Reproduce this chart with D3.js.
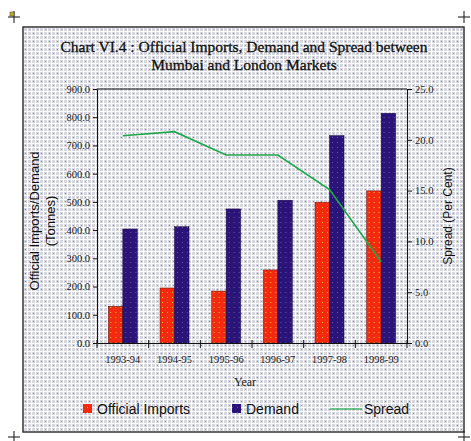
<!DOCTYPE html>
<head>
  <meta charset="utf-8">
  <script src="https://cdn.jsdelivr.net/npm/d3@7"></script>
  <style>
    body { margin: 0; background: #fff; }
    .tick text { font-family: "Liberation Serif", serif; font-size: 10.5px; fill: #222; }
    .domain, .tick line { stroke: #111; }
  </style>
</head>
<body>
<script>

// data
var years = ["1993-94", "1994-95", "1995-96", "1996-97", "1997-98", "1998-99"]
var officialImports = [130, 195, 184, 259, 499, 539]
var demand = [404, 412, 475, 506, 735, 814]
var spread = [20.4, 20.8, 18.5, 18.5, 15.1, 8.0]
var leftTicks = [0, 100, 200, 300, 400, 500, 600, 700, 800, 900]
var rightTicks = [0, 5, 10, 15, 20, 25]

var W = 471, H = 441
var plot = {left: 97, right: 407, top: 89, bottom: 343}

var svg = d3.select("body").append("svg")
            .attr("width", W)
            .attr("height", H)

var defs = svg.append("defs")

// halftone-ish background like the scan
var bg = defs.append("pattern")
             .attr("id", "bg")
             .attr("width", 8).attr("height", 8)
             .attr("patternUnits", "userSpaceOnUse")
bg.append("rect").attr("width", 8).attr("height", 8).attr("fill", "#ffffff")
;[[0,0],[4,0],[0,4],[4,4]].forEach(function(p) {
  bg.append("rect").attr("x", p[0]).attr("y", p[1]).attr("width", 3).attr("height", 3).attr("fill", "#d6d6de")
})
bg.append("rect").attr("x", 1).attr("y", 1).attr("width", 1).attr("height", 1).attr("fill", "#7a7af0")
bg.append("rect").attr("x", 5).attr("y", 5).attr("width", 1).attr("height", 1).attr("fill", "#e870e8")

var redPat = defs.append("pattern")
                 .attr("id", "redPat")
                 .attr("width", 5).attr("height", 5)
                 .attr("patternUnits", "userSpaceOnUse")
redPat.append("rect").attr("width", 5).attr("height", 5).attr("fill", "#f42a10")
redPat.append("rect").attr("x", 2).attr("y", 2).attr("width", 1).attr("height", 1).attr("fill", "#d8c020")

var bluePat = defs.append("pattern")
                  .attr("id", "bluePat")
                  .attr("width", 5).attr("height", 5)
                  .attr("patternUnits", "userSpaceOnUse")
bluePat.append("rect").attr("width", 5).attr("height", 5).attr("fill", "#2a1478")
bluePat.append("rect").attr("x", 2).attr("y", 2).attr("width", 1).attr("height", 1).attr("fill", "#6050a8")

// outer frame
svg.append("rect")
   .attr("x", 23).attr("y", 27)
   .attr("width", 441).attr("height", 405)
   .attr("fill", "url(#bg)")
   .attr("stroke", "#333")
   .attr("stroke-width", 1.5)

// crop marks at the corners
var marks = [[14, 17], [464, 17], [14, 437], [464, 437]]
marks.forEach(function(m) {
  svg.append("line").attr("x1", m[0] - 6).attr("x2", m[0] + 6).attr("y1", m[1]).attr("y2", m[1]).attr("stroke", "#111")
  svg.append("line").attr("x1", m[0]).attr("x2", m[0]).attr("y1", m[1] - 6).attr("y2", m[1] + 6).attr("stroke", "#111")
})
svg.append("rect").attr("x", 10).attr("y", 12).attr("width", 4).attr("height", 4).attr("fill", "#c8b020").attr("stroke", "#333").attr("stroke-width", 0.5)

// title
var title = svg.append("text")
               .attr("text-anchor", "middle")
               .attr("font-family", "Liberation Serif, serif")
               .attr("font-size", 15.5)
               .attr("fill", "#111")
               .attr("stroke", "#111")
               .attr("stroke-width", 0.3)
title.append("tspan").attr("x", 244).attr("y", 52).text("Chart VI.4 : Official Imports, Demand and Spread between")
title.append("tspan").attr("x", 244).attr("y", 70).text("Mumbai and London Markets")

var x0 = d3.scaleBand()
           .domain(years)
           .range([plot.left, plot.right])

var x1 = d3.scaleBand()
           .domain(["imports", "demand"])
           .range([0, 29])

var y = d3.scaleLinear()
          .domain([0, 900])
          .range([plot.bottom, plot.top])

var yR = d3.scaleLinear()
           .domain([0, 25])
           .range([plot.bottom, plot.top])

// plot box top edge
svg.append("line")
   .attr("x1", plot.left).attr("x2", plot.right)
   .attr("y1", plot.top).attr("y2", plot.top)
   .attr("stroke", "#111")

var groups = svg.selectAll("g.year")
                .data(years)
                .enter()
                .append("g")
                .attr("class", "year")
                .attr("transform", function(d) {
                  return "translate(" + (x0(d) + x0.bandwidth() / 2 - 14.5) + ",0)"
                })

groups.append("rect")
      .attr("x", x1("imports"))
      .attr("width", x1.bandwidth())
      .attr("y", function(d, i) { return y(officialImports[i]) })
      .attr("height", function(d, i) { return y(0) - y(officialImports[i]) })
      .attr("fill", "url(#redPat)")
      .attr("stroke", "#5a1010")
      .attr("stroke-width", 0.5)

groups.append("rect")
      .attr("x", x1("demand"))
      .attr("width", x1.bandwidth())
      .attr("y", function(d, i) { return y(demand[i]) })
      .attr("height", function(d, i) { return y(0) - y(demand[i]) })
      .attr("fill", "url(#bluePat)")
      .attr("stroke", "#1a0a40")
      .attr("stroke-width", 0.5)

var line = d3.line()
             .x(function(d, i) { return x0(years[i]) + x0.bandwidth() / 2 })
             .y(function(d) { return yR(d) })

svg.append("path")
   .datum(spread)
   .attr("d", line)
   .attr("fill", "none")
   .attr("stroke", "#1fa84a")
   .attr("stroke-width", 1.6)

// axes
svg.append("g")
   .attr("transform", "translate(" + plot.left + ",0)")
   .call(d3.axisLeft(y).tickValues(leftTicks).tickFormat(d3.format(".1f")).tickSize(4).tickSizeOuter(0))

svg.append("g")
   .attr("transform", "translate(" + plot.right + ",0)")
   .call(d3.axisRight(yR).tickValues(rightTicks).tickFormat(d3.format(".1f")).tickSize(5).tickSizeOuter(0))

var xAxis = svg.append("g")
   .attr("transform", "translate(0," + plot.bottom + ")")
   .call(d3.axisBottom(x0).tickSize(0).tickPadding(13).tickSizeOuter(0))

// Excel style ticks between categories
xAxis.selectAll("line.sep")
     .data(years.concat(["end"]))
     .enter()
     .append("line")
     .attr("class", "sep")
     .attr("x1", function(d, i) { return plot.left + i * x0.step() })
     .attr("x2", function(d, i) { return plot.left + i * x0.step() })
     .attr("y1", -3).attr("y2", 5)
     .attr("stroke", "#111")

// axis titles
var yTitle = svg.append("text")
                .attr("transform", "translate(39,221) rotate(-90)")
                .attr("text-anchor", "middle")
                .attr("font-family", "Liberation Sans, sans-serif")
                .attr("font-size", 13)
                .attr("fill", "#111")
yTitle.append("tspan").attr("x", 0).attr("y", 0).text("Official Imports/Demand")
yTitle.append("tspan").attr("x", 0).attr("y", 16).text("(Tonnes)")

svg.append("text")
   .attr("transform", "translate(452,216) rotate(-90)")
   .attr("text-anchor", "middle")
   .attr("font-family", "Liberation Sans, sans-serif")
   .attr("font-size", 12)
   .attr("fill", "#111")
   .text("Spread (Per Cent)")

svg.append("text")
   .attr("x", 245).attr("y", 386)
   .attr("text-anchor", "middle")
   .attr("font-family", "Liberation Serif, serif")
   .attr("font-size", 12)
   .attr("fill", "#222")
   .text("Year")

// legend
var legend = svg.append("g")
                .attr("font-family", "Liberation Sans, sans-serif")
                .attr("font-size", 14)
                .attr("fill", "#111")

legend.append("rect").attr("x", 83).attr("y", 404).attr("width", 9).attr("height", 9).attr("fill", "url(#redPat)")
legend.append("text").attr("x", 97).attr("y", 414).text("Official Imports")
legend.append("rect").attr("x", 232).attr("y", 404).attr("width", 9).attr("height", 9).attr("fill", "url(#bluePat)")
legend.append("text").attr("x", 246).attr("y", 414).text("Demand")
legend.append("line").attr("x1", 330).attr("x2", 362).attr("y1", 409).attr("y2", 409).attr("stroke", "#1fa84a").attr("stroke-width", 1.2)
legend.append("text").attr("x", 364).attr("y", 414).text("Spread")

</script>
</body>
